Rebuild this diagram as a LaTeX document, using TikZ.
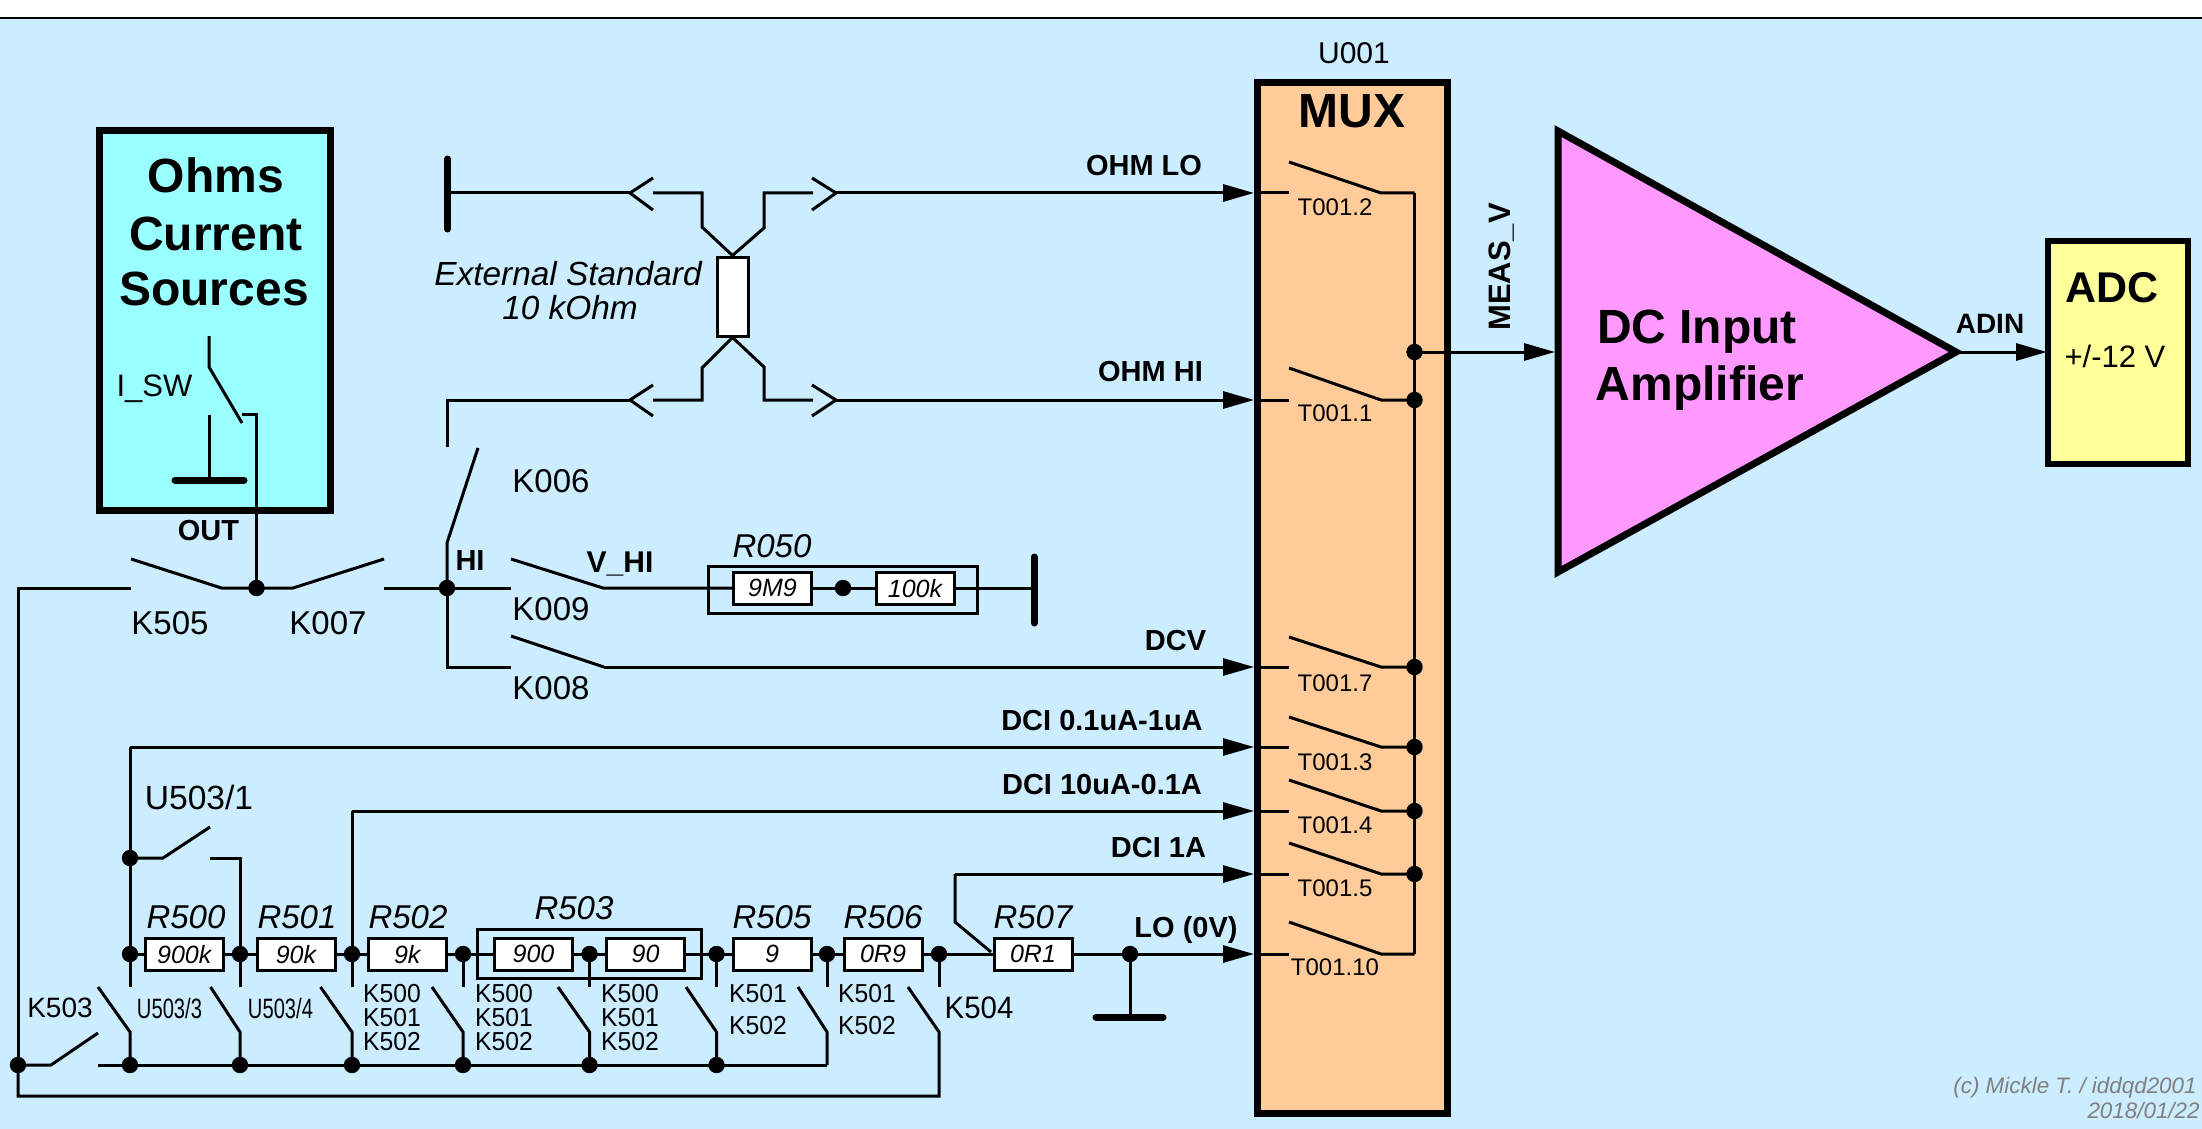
\documentclass[tikz,border=0pt]{standalone}
\usepackage{fontspec}
\usepackage{graphicx}
\setmainfont{Liberation Sans}
\usetikzlibrary{arrows.meta}
\definecolor{bgc}{HTML}{CCECFF}
\definecolor{ohmc}{HTML}{99FFFF}
\definecolor{muxc}{HTML}{FFCC99}
\definecolor{ampc}{HTML}{FF99FF}
\definecolor{adcc}{HTML}{FFFF99}
\definecolor{credc}{HTML}{808080}
\newcommand\fsz[1]{\fontsize{#1}{#1}\selectfont}
\newcommand\sqz[2]{\scalebox{#1}[1]{#2}}
\tikzset{
  wire/.style={line width=1.5pt,line join=miter,line cap=butt},
  gnd/.style={line width=3.5pt,line cap=round},
  arr/.style={wire,-{Triangle[length=15.5pt,width=8.5pt]}},
  block/.style={draw,line width=3.5pt,inner sep=0pt},
  dot/.style={circle,fill=black,minimum size=8.2pt,inner sep=0pt},
  res/.style={draw,fill=white,line width=1.5pt,inner sep=0pt,minimum width=39pt,minimum height=16pt,font=\fsz{12.5}\itshape,text depth=0pt},
  frame/.style={draw,line width=1.5pt,inner sep=0pt},
  lab/.style={inner sep=0pt,text depth=0pt,font=\fsz{16.5}},
  blab/.style={inner sep=0pt,text depth=0pt,font=\fsz{14.5}\bfseries},
  ilab/.style={inner sep=0pt,text depth=0pt,font=\fsz{16.5}\itshape},
  klab/.style={inner sep=0pt,text depth=0pt,font=\fsz{13}},
  tlab/.style={inner sep=0pt,text depth=0pt,font=\fsz{12}},
  big/.style={inner sep=0pt,text depth=0pt,font=\fsz{24}\bfseries},
  cred/.style={inner sep=0pt,text depth=0pt,anchor=east,text=credc,font=\fsz{11.2}\itshape},
}
\begin{document}
\begin{tikzpicture}[x=0.5pt,y=-0.5pt]
\useasboundingbox (0,0) rectangle (2202,1129);
\fill[bgc] (0,18) rectangle (2202,1129);
\draw[line width=1pt] (0,18) -- (2202,18);

% ---------- blocks
\node[block,fill=ohmc,minimum width=115.5pt,minimum height=189.5pt] (ohms) at (214.5,320.5) {};
\node[block,fill=muxc,minimum width=95pt,minimum height=515pt] (mux) at (1352,598) {};
\draw[block,fill=ampc,line join=miter] (1558,131) coordinate (ampT) -- (1956,352) coordinate (ampO) -- (1558,572) coordinate (ampB) -- cycle;
\coordinate (ampI) at (1555,352);
\node[draw,line width=3pt,fill=adcc,inner sep=0pt,minimum width=70pt,minimum height=111.5pt] (adc) at (2118,352.5) {};
\coordinate (adcI) at (2047,352);

% ---------- block texts
\node[big] (t1) at (216,175) {Ohms};
\node[big] (t2) at (216,234) {Current};
\node[big] (t3) at (214,289) {Sources};
\node[inner sep=0pt,text depth=0pt,font=\fsz{24}\bfseries] (tm) at (1352,111) {MUX};
\node[lab,font=\fsz{15}] (tu) at (1354,53) {U001};
\node[big] (ta1) at (1697,327) {DC Input};
\node[big] (ta2) at (1700,383) {Amplifier};
\node[inner sep=0pt,text depth=0pt,font=\fsz{21.5}\bfseries] (tadc) at (2112,287) {ADC};
\node[lab,font=\fsz{15.5}] (tadc2) at (2115,356) {+/-12 V};
\node[blab,font=\fsz{14}\bfseries] (tadin) at (1990,324) {ADIN};
\node[blab,font=\fsz{15.5}\bfseries,rotate=90] (tmeas) at (1500,267) {MEAS\_V};

% ---------- resistors
\node[frame,minimum width=112pt,minimum height=24.5pt] (r503box) at (589.75,953.5) {};
\node[frame,minimum width=134.5pt,minimum height=23.5pt] (r050box) at (842.5,589.5) {};
\node[res] (r500) at (184.25,954) {900k};
\node[res] (r501) at (296,954) {90k};
\node[res] (r502) at (407.25,954) {9k};
\node[res] (r503a) at (533.5,954) {900};
\node[res] (r503b) at (645.5,954) {90};
\node[res] (r505) at (772,954) {9};
\node[res] (r506) at (883,954) {0R9};
\node[res] (r507) at (1033,954) {0R1};
\node[res] (r050a) at (772.5,588) {9M9};
\node[res] (r050b) at (915,588) {100k};
\node[res,minimum width=15.5pt,minimum height=39.5pt] (rext) at (732.5,296.5) {};

% ---------- dots
\node[dot] (dout) at (256.5,588) {};
\node[dot] (dhi) at (447,588) {};
\node[dot] (d50) at (843,588) {};
\node[dot] (dmeas) at (1414.5,352) {};
\node[dot] (dt1) at (1414.5,400) {};
\node[dot] (dt7) at (1414.5,667) {};
\node[dot] (dt3) at (1414.5,747) {};
\node[dot] (dt4) at (1414.5,811) {};
\node[dot] (dt5) at (1414.5,874) {};
\node[dot] (du1) at (130,858) {};
\node[dot] (a0) at (130,954) {};
\node[dot] (a1) at (240,954) {};
\node[dot] (a2) at (352,954) {};
\node[dot] (a3) at (463,954) {};
\node[dot] (a4) at (589.5,954) {};
\node[dot] (a5) at (716.5,954) {};
\node[dot] (a6) at (827,954) {};
\node[dot] (a7) at (939,954) {};
\node[dot] (dlo) at (1130,954) {};
\node[dot] (b0) at (18,1065) {};
\node[dot] (b1) at (130,1065) {};
\node[dot] (b2) at (240,1065) {};
\node[dot] (b3) at (352,1065) {};
\node[dot] (b4) at (463,1065) {};
\node[dot] (b5) at (589.5,1065) {};
\node[dot] (b6) at (716.5,1065) {};

% ---------- Ohms current source internals
\draw[wire] (209,336) coordinate (sw1) -- (209,367) coordinate (sw2) -- (242,423) coordinate (sw3);
\coordinate (sw4) at (242,414);
\coordinate (sw5) at (256.5,414);
\draw[wire] (sw4) -- (sw5) -- (dout.center);
\coordinate (g1t) at (209,415);
\coordinate (g1) at (209,480);
\draw[wire] (g1t) -- (g1);
\draw[gnd] (175,480) coordinate (g1a) -- (244,480) coordinate (g1b);

% ---------- K505 / K007 / HI
\coordinate (c505) at (18,588);
\coordinate (k505a) at (131,588);
\coordinate (k505b) at (131,559);
\coordinate (k505c) at (221.5,588);
\draw[wire] (b0.center) -- (c505) -- (k505a);
\draw[wire] (k505b) -- (k505c) -- (dout.center);
\coordinate (k007a) at (293,588);
\coordinate (k007b) at (384,559);
\coordinate (k007c) at (384,588);
\draw[wire] (dout.center) -- (k007a) -- (k007b);
\coordinate (k009a) at (511,588);
\coordinate (k009b) at (511,559);
\coordinate (k009c) at (603,588);
\draw[wire] (k007c) -- (dhi.center) -- (k009a);
\draw[wire] (k009b) -- (k009c) -- (r050a.west);
\draw[wire] (r050a.east) -- (d50.center) -- (r050b.west);
\coordinate (g2) at (1034,588);
\draw[wire] (r050b.east) -- (g2);
\draw[gnd] (1034,557) coordinate (g2a) -- (1034,623) coordinate (g2b);
% K006
\coordinate (k006a) at (447,543);
\coordinate (k006b) at (478,448);
\coordinate (k006c) at (447,447);
\coordinate (k006d) at (447,400);
\draw[wire] (dhi.center) -- (k006a) -- (k006b);
% K008
\coordinate (k008a) at (447,667);
\coordinate (k008b) at (511,667);
\coordinate (k008c) at (511,636);
\coordinate (k008d) at (604,667);
\draw[wire] (dhi.center) -- (k008a) -- (k008b);
\draw[wire] (k008c) -- (k008d);

% ---------- External standard with connectors
\coordinate (tipLL) at (630,400);
\coordinate (tipUL) at (630,193);
\coordinate (gnd3) at (447.5,193);
\draw[gnd] (447.5,159) coordinate (g3a) -- (447.5,229) coordinate (g3b);
\draw[wire] (gnd3) -- (tipUL);
\draw[wire,line join=miter] (653,178) coordinate (uL1) -- (tipUL) -- (653,210) coordinate (uL2);
\draw[wire] (k006c) -- (k006d) -- (tipLL);
\draw[wire] (653,385) coordinate (lL1) -- (tipLL) -- (653,416) coordinate (lL2);
\draw[wire] (653,193) coordinate (uL3) -- (702,193) coordinate (uL4) -- (702,227) coordinate (uL5) -- (rext.north);
\draw[wire] (rext.north) -- (764,228) coordinate (uR5) -- (764,193) coordinate (uR4) -- (813,193) coordinate (uR3);
\draw[wire] (653,400) coordinate (lL3) -- (702,400) coordinate (lL4) -- (702,368) coordinate (lL5) -- (rext.south);
\draw[wire] (rext.south) -- (764,367) coordinate (lR5) -- (764,400) coordinate (lR4) -- (813,400) coordinate (lR3);
\draw[wire] (812,178) coordinate (uR1) -- (836,193) coordinate (tipUR) -- (812,210) coordinate (uR2);
\draw[wire] (812,385) coordinate (lR1) -- (836,400) coordinate (tipLR) -- (812,416) coordinate (lR2);

% ---------- MUX inputs
\coordinate (in2) at (1254,193);
\coordinate (in1) at (1254,400);
\coordinate (in7) at (1254,667);
\coordinate (in3) at (1254,747);
\coordinate (in4) at (1254,811);
\coordinate (in5) at (1254,874);
\coordinate (in10) at (1254,954);
\draw[arr] (tipUR) -- (in2);
\draw[arr] (tipLR) -- (in1);
\draw[arr] (k008d) -- (in7);
\coordinate (c3) at (130,747);
\draw[wire] (a0.center) -- (du1.center) -- (c3);
\draw[arr] (c3) -- (in3);
\coordinate (c4) at (352,811);
\draw[wire] (a2.center) -- (c4);
\draw[arr] (c4) -- (in4);
\coordinate (c5) at (955,874);
\coordinate (c5b) at (955,922);
\coordinate (c5c) at (991,952);
\draw[wire] (c5c) -- (c5b) -- (c5);
\draw[arr] (c5) -- (in5);
\draw[arr] (r507.east) -- (in10);

% ---------- MUX internals
\foreach \nm/\yy/\yb in {2/193/162,1/400/368,7/667/637,3/747/717,4/811/780,5/874/843,10/954/922}{
  \coordinate (mi\nm) at (1257,\yy);
  \coordinate (mj\nm) at (1289,\yy);
  \coordinate (mk\nm) at (1289,\yb);
  \coordinate (ml\nm) at (1381,\yy);
  \coordinate (mm\nm) at (1414.5,\yy);
  \draw[wire] (mi\nm) -- (mj\nm);
  \draw[wire] (mk\nm) -- (ml\nm) -- (mm\nm);
}
\draw[wire] (mm2) -- (mm10);
\draw[arr] (dmeas.center) -- (ampI);
\draw[arr] (ampO) -- (adcI);

% ---------- resistor chain
\draw[wire] (a0.center) -- (r500.west);
\draw[wire] (r500.east) -- (a1.center) -- (r501.west);
\draw[wire] (r501.east) -- (a2.center) -- (r502.west);
\draw[wire] (r502.east) -- (a3.center) -- (r503a.west);
\draw[wire] (r503a.east) -- (a4.center) -- (r503b.west);
\draw[wire] (r503b.east) -- (a5.center) -- (r505.west);
\draw[wire] (r505.east) -- (a6.center) -- (r506.west);
\draw[wire] (r506.east) -- (a7.center) -- (r507.west);
\draw[wire] (r507.east) -- (dlo.center);
\coordinate (g4) at (1130,1017);
\draw[wire] (dlo.center) -- (g4);
\draw[gnd] (1096,1017) coordinate (g4a) -- (1163,1017) coordinate (g4b);

% U503/1
\coordinate (u1a) at (163,858);
\coordinate (u1b) at (210,827);
\coordinate (u1c) at (210,858);
\coordinate (u1d) at (240,858);
\draw[wire] (du1.center) -- (u1a) -- (u1b);
\draw[wire] (u1c) -- (u1d) -- (a1.center);

% stubs and blades
\foreach \aa/\bb/\xa/\xb in {a0/b1/130/98,a1/b2/240/210.5,a2/b3/352/320.5,a3/b4/463/432,a4/b5/589.5/558,a5/b6/716.5/686}{
  \coordinate (\aa s) at (\xa,987);
  \coordinate (\bb t) at (\xb,987);
  \coordinate (\bb m) at (\xa,1032);
  \draw[wire] (\aa.center) -- (\aa s);
  \draw[wire] (\bb t) -- (\bb m) -- (\bb.center);
}
\coordinate (a6s) at (827,987);
\coordinate (k6t) at (798,987);
\coordinate (k6m) at (827,1032);
\coordinate (k6b) at (827,1065);
\draw[wire] (a6.center) -- (a6s);
\draw[wire] (k6t) -- (k6m) -- (k6b);
\coordinate (a7s) at (939,987);
\coordinate (k7t) at (908,987);
\coordinate (k7m) at (939,1032);
\coordinate (k7b) at (939,1096);
\coordinate (k7l) at (18,1096);
\draw[wire] (a7.center) -- (a7s);
\draw[wire] (k7t) -- (k7m) -- (k7b) -- (k7l) -- (b0.center);
% K503
\coordinate (k503a) at (51,1065);
\coordinate (k503b) at (98,1033);
\coordinate (k503c) at (98,1065);
\draw[wire] (b0.center) -- (k503a) -- (k503b);
\draw[wire] (k503c) -- (b1.center) -- (b2.center) -- (b3.center) -- (b4.center) -- (b5.center) -- (b6.center) -- (k6b);

% ---------- labels
\node[lab,font=\fsz{15.5}] (lisw) at (154.5,386) {I\_SW};
\node[blab] (lout) at (208.5,530) {OUT};
\node[lab] (l505) at (170,623) {K505};
\node[lab] (l007) at (328,623) {K007};
\node[lab] (l006) at (551,481) {K006};
\node[lab] (l009) at (551,609) {K009};
\node[lab] (l008) at (551,688) {K008};
\node[blab] (lhi) at (470,561) {HI};
\node[blab,font=\fsz{15}\bfseries] (lvhi) at (620,562) {V\_HI};
\node[ilab] (lr050) at (772,546) {R050};
\node[ilab,font=\fsz{16.7}\itshape] (lex1) at (568,273) {External Standard};
\node[ilab,font=\fsz{16.7}\itshape] (lex2) at (570,307) {10 kOhm};

\node[blab] (lohl) at (1144,165) {OHM LO};
\node[blab] (lohh) at (1150.5,371) {OHM HI};
\node[blab] (ldcv) at (1175.5,640) {DCV};
\node[blab] (ld3) at (1102,720) {DCI 0.1uA-1uA};
\node[blab] (ld4) at (1102,784) {DCI 10uA-0.1A};
\node[blab] (ld5) at (1158.5,847) {DCI 1A};
\node[blab] (llo) at (1186,927) {LO (0V)};

\node[tlab] (tt2) at (1335,207) {T001.2};
\node[tlab] (tt1) at (1335,413) {T001.1};
\node[tlab] (tt7) at (1335,683) {T001.7};
\node[tlab] (tt3) at (1335,762) {T001.3};
\node[tlab] (tt4) at (1335,825) {T001.4};
\node[tlab] (tt5) at (1335,888) {T001.5};
\node[tlab] (tt10) at (1335,967) {T001.10};

\node[ilab] (l500) at (186,917) {R500};
\node[ilab] (l501) at (297,917) {R501};
\node[ilab] (l502) at (408,917) {R502};
\node[ilab] (l503) at (574,908) {R503};
\node[ilab] (l505r) at (772,917) {R505};
\node[ilab] (l506) at (883,917) {R506};
\node[ilab] (l507) at (1033,917) {R507};

\node[lab,font=\fsz{16.8}] (lu1) at (199,797) {U503/1};
\node[lab,font=\fsz{14}] (l503k) at (60,1008) {K503};
\node[lab,font=\fsz{14}] (lu3) at (169.5,1008) {\sqz{0.72}{U503/3}};
\node[lab,font=\fsz{14}] (lu4) at (280.5,1008) {\sqz{0.72}{U503/4}};
\foreach \xx/\nm in {392/p,504/q,630/r}{
  \node[klab] (\nm0) at (\xx,993) {\sqz{0.95}{K500}};
  \node[klab] (\nm1) at (\xx,1017) {\sqz{0.95}{K501}};
  \node[klab] (\nm2) at (\xx,1041) {\sqz{0.95}{K502}};
}
\node[klab] (s1) at (758,993) {\sqz{0.95}{K501}};
\node[klab] (s2) at (758,1025) {\sqz{0.95}{K502}};
\node[klab] (u1) at (867,993) {\sqz{0.95}{K501}};
\node[klab] (u2) at (867,1025) {\sqz{0.95}{K502}};
\node[lab,font=\fsz{15.5}] (l504) at (979,1008) {\sqz{0.95}{K504}};

\node[cred] (cr1) at (2197,1085) {(c) Mickle T. / iddqd2001};
\node[cred] (cr2) at (2200,1110) {2018/01/22};
\end{tikzpicture}
\end{document}
